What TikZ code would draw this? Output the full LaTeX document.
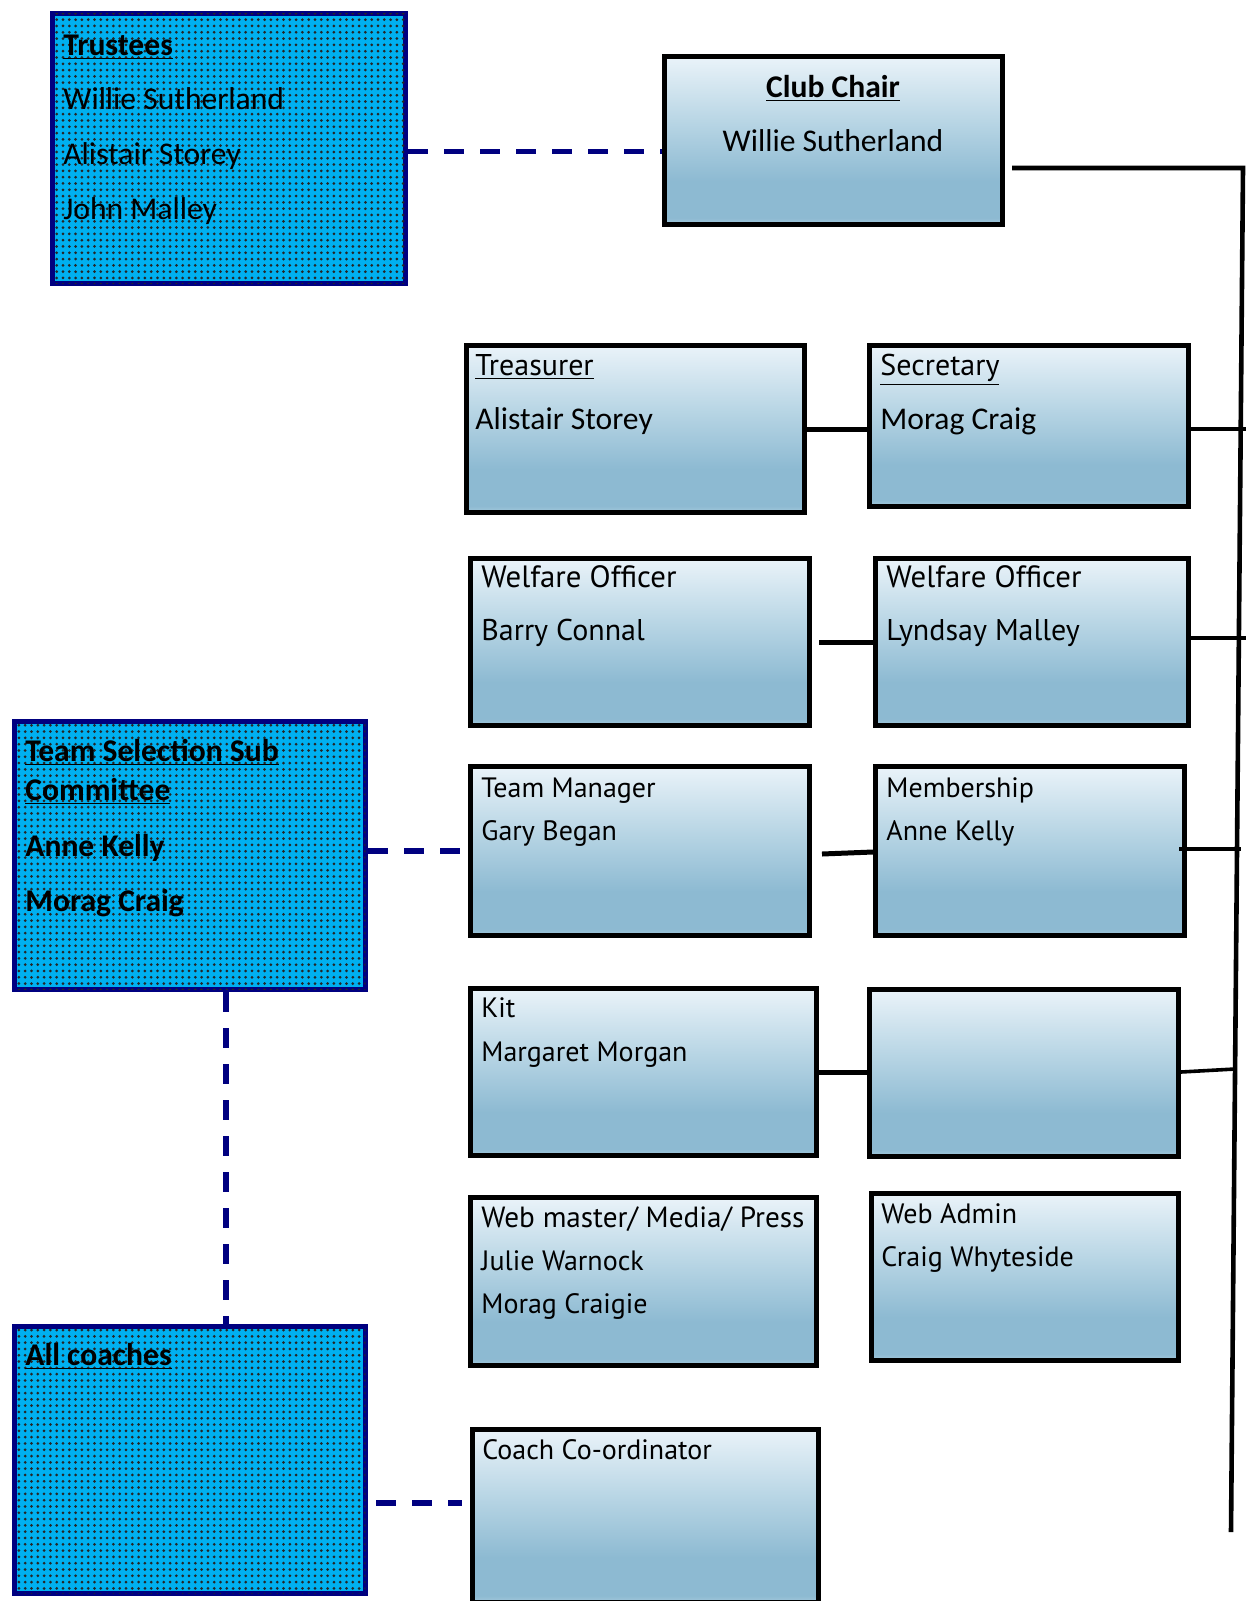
\documentclass[tikz,border=0pt]{standalone}
\usepackage{fontspec}
\setmainfont{Carlito}
\newfontfamily\comic{PT Sans}
\usetikzlibrary{patterns,fit,calc}
\definecolor{navyc}{RGB}{0,0,128}
\definecolor{cyanc}{RGB}{0,176,240}
\definecolor{gtop}{RGB}{234,243,249}
\definecolor{gmid}{RGB}{185,214,229}
\definecolor{gbot}{RGB}{141,186,210}
\definecolor{gedge}{RGB}{165,201,220}
\pgfdeclareverticalshading{boxgrad}{100bp}{color(0bp)=(gedge); color(25bp)=(gedge); color(27bp)=(gbot); color(38bp)=(gbot); color(56bp)=(gmid); color(75bp)=(gtop); color(100bp)=(gtop)}
\pgfdeclarepatternformonly{bigdots}{\pgfqpoint{-1pt}{-1pt}}{\pgfqpoint{1pt}{1pt}}{\pgfqpoint{3.15pt}{3.15pt}}{\pgfpathcircle{\pgfqpoint{0pt}{0pt}}{0.75pt}\pgfusepath{fill}}
\tikzset{
  gbox/.style={draw=black, line width=2.4pt, shade, shading=boxgrad, inner sep=-1.2pt},
  bbox/.style={draw=navyc, line width=2.6pt, fill=cyanc, postaction={pattern=bigdots, pattern color=black!85}, inner sep=-1.3pt},
  txt/.style={anchor=west, inner sep=0pt, text height=0.7em, text depth=0.2em, yshift=-2.5pt},
  cal/.style={txt, font=\fontsize{15.8}{19}\selectfont},
  calb/.style={txt, font=\fontsize{15.8}{19}\selectfont\bfseries},
  com/.style={txt, font=\fontsize{14}{17}\selectfont\comic},
  comM/.style={txt, font=\fontsize{14.6}{17}\selectfont\comic},
  comL/.style={txt, font=\fontsize{15}{18}\selectfont\comic},
  comW/.style={txt, font=\fontsize{15.4}{18}\selectfont\comic},
  conn/.style={draw=black, line width=2.3pt},
  rowc/.style={draw=black, line width=2.5pt},
  thin/.style={draw=black, line width=1.8pt},
  dashc/.style={draw=navyc, line width=2.6pt, dash pattern=on 10pt off 8pt},
}
\begin{document}
\begin{tikzpicture}[x=0.5pt,y=-0.5pt]
\useasboundingbox (0,0) rectangle (1247,1601);
% blue boxes
\node[bbox, fit={(50,11) (408,286)}] (trust) {};
\node[bbox, fit={(12,719) (368,992)}] (tsel) {};
\node[bbox, fit={(12,1324) (368,1596)}] (allc) {};
% gradient boxes
\node[gbox, fit={(662,54) (1005,227)}] (chair) {};
\node[gbox, fit={(464,343) (807,515)}] (treas) {};
\node[gbox, fit={(867,343) (1191,509)}] (secr) {};
\node[gbox, fit={(468,556) (812,728)}] (welf1) {};
\node[gbox, fit={(873,556) (1191,728)}] (welf2) {};
\node[gbox, fit={(468,764) (812,938)}] (tman) {};
\node[gbox, fit={(873,764) (1187,938)}] (memb) {};
\node[gbox, fit={(468,986) (819,1158)}] (kit) {};
\node[gbox, fit={(867,987) (1181,1159)}] (empt) {};
\node[gbox, fit={(468,1195) (819,1368)}] (webm) {};
\node[gbox, fit={(869,1191) (1181,1363)}] (weba) {};
\node[gbox, fit={(470,1427) (821,1605)}] (coach) {};
% texts
\node[calb] (t1) at (63,45) {\underline{Trustees}};
\node[cal] (t2) at (63,99) {Willie Sutherland};
\node[cal] (t3) at (63,154) {Alistair Storey};
\node[cal] (t4) at (63,209) {John Malley};
\node[calb, anchor=center] (c1) at (833,87) {\underline{Club Chair}};
\node[cal, anchor=center] (c2) at (833,141) {Willie Sutherland};
\node[comL] (r1) at (475,365) {\underline{Treasurer}};
\node[cal] (r2) at (475,419) {Alistair Storey};
\node[comL] (s1) at (880,365) {\underline{Secretary}};
\node[cal] (s2) at (880,419) {Morag Craig};
\node[comW] (w1) at (481,577) {Welfare Officer};
\node[comL] (w2) at (481,630) {Barry Connal};
\node[comW] (w3) at (886,577) {Welfare Officer};
\node[comL] (w4) at (886,630) {Lyndsay Malley};
\node[com] (m1) at (481,787) {Team Manager};
\node[com] (m2) at (481,830) {Gary Began};
\node[com] (m3) at (886,787) {Membership};
\node[com] (m4) at (886,830) {Anne Kelly};
\node[com] (k1) at (481,1007) {Kit};
\node[com] (k2) at (481,1051) {Margaret Morgan};
\node[comM] (b1) at (481,1217) {Web master/ Media/ Press};
\node[com] (b2) at (481,1260) {Julie Warnock};
\node[com] (b3) at (481,1303) {Morag Craigie};
\node[com] (a1) at (881,1213) {Web Admin};
\node[com] (a2) at (881,1256) {Craig Whyteside};
\node[com] (o1) at (482,1449) {Coach Co-ordinator};
\node[calb] (e1) at (25,751) {\underline{Team Selection Sub}};
\node[calb] (e2) at (25,790) {\underline{Committee}};
\node[calb] (e3) at (25,846) {Anne Kelly};
\node[calb] (e4) at (25,901) {Morag Craig};
\node[calb] (f1) at (25,1355) {\underline{All coaches}};
% main vertical line
\coordinate (vtop) at (1243,168);
\coordinate (vbot) at (1231,1532);
\coordinate (chout) at ([xshift=3.5pt]chair.east |- vtop);
\draw[conn, line join=miter] (chout) -- (vtop) -- (vbot);
\coordinate (j1) at (1246,429);
\coordinate (j2) at (1246,638);
\coordinate (j3) at (1241,849);
\coordinate (j4) at (1235,1069);
\draw[thin] ([xshift=-1pt]secr.east |- j1) -- (j1);
\draw[thin] ([xshift=-1pt]welf2.east |- j2) -- (j2);
\draw[thin] ([xshift=-4pt]memb.east |- j3) -- (j3);
\draw[thin] ([yshift=0.5pt]empt.east) -- (j4);
% row connectors
\draw[rowc] (treas.east) -- (treas.east -| secr.west);
\coordinate (w1o) at ([xshift=3.5pt]welf1.east);
\draw[rowc] (w1o) -- (w1o -| welf2.west);
\coordinate (tmo) at ([shift={(5pt,-1.5pt)}]tman.east);
\draw[rowc] (tmo) -- ([yshift=-0.5pt]memb.west);
\draw[rowc] (kit.east) -- (kit.east -| empt.west);
% dashed links
\coordinate (trout) at ([yshift=-1.5pt]trust.east);
\draw[dashc] (trout) -- (trout -| chair.west);
\coordinate (tsin) at ([xshift=-4pt]tman.west);
\draw[dashc] (tsin -| tsel.east) -- (tsin);
\draw[dashc] ([xshift=18pt]tsel.south) -- ([xshift=18pt]allc.north);
\coordinate (ccin) at ([shift={(-4pt,6.5pt)}]coach.west);
\draw[dashc] ([xshift=4pt]ccin -| allc.east) -- (ccin);
\end{tikzpicture}
\end{document}
